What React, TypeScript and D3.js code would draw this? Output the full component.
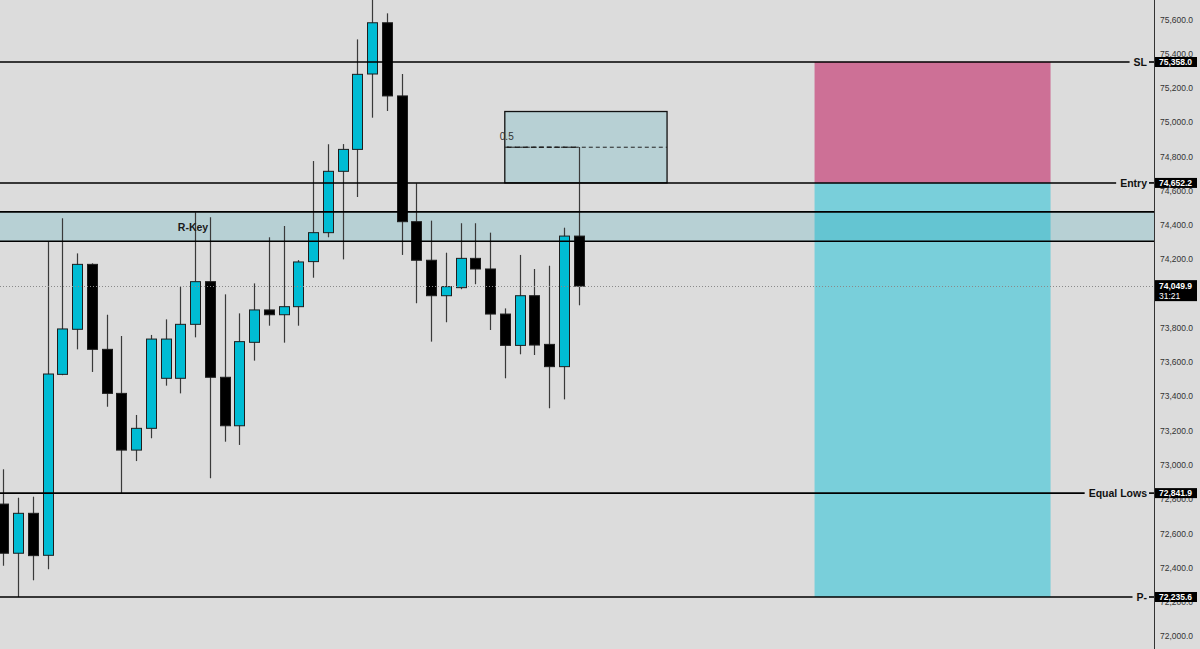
import React, { useEffect, useRef } from 'react';
import * as d3 from 'd3';

const W = 1200;
const H = 649;
const PLOT_RIGHT = 1154;

// OHLC candles (bar index = array index)
const opens = [72778, 72491, 72724, 72479, 73535, 73798, 74177, 73681, 73424, 73093,
  73220, 73512, 73512, 73827, 74076, 73518, 73235, 73722, 73911, 73883,
  73930, 74193, 74362, 74720, 74848, 75288, 75587, 75160, 74426, 74201,
  73994, 74041, 74212, 74150, 73887, 73704, 73994, 73710, 73580, 74342];
const highs = [72981, 72815, 72821, 74309, 74446, 74241, 74183, 73883, 73759, 73298,
  73765, 73856, 74047, 74481, 74452, 74002, 73891, 74066, 74335, 74401,
  74202, 74780, 74878, 74879, 75490, 75731, 75642, 75288, 74650, 74432,
  74245, 74417, 74417, 74362, 73920, 74232, 74150, 74169, 74391, 74862];
const lows = [72418, 72236, 72333, 72397, 73530, 73681, 73549, 73346, 72842, 73029,
  73162, 73469, 73424, 73751, 72928, 73142, 73123, 73615, 73819, 73720,
  73819, 74099, 74335, 74206, 74570, 75033, 75072, 74232, 73950, 73726,
  73839, 74032, 74061, 73794, 73512, 73652, 73648, 73337, 73389, 73938];
const closes = [72491, 72724, 72477, 73537, 73800, 74177, 73681, 73424, 73093, 73220,
  73741, 73741, 73827, 74076, 73518, 73235, 73726, 73911, 73883, 73930,
  74191, 74362, 74720, 74848, 75286, 75587, 75160, 74426, 74201, 73994,
  74047, 74212, 74150, 73887, 73704, 73994, 73706, 73580, 74342, 74049.9];

// visible price-axis ticks (74,000 is hidden behind the last-price badge)
const priceTicks = [72000, 72200, 72400, 72600, 72800, 73000, 73200, 73400, 73600, 73800,
  74200, 74400, 74600, 74800, 75000, 75200, 75400, 75600];

const levelNames = ['SL', 'Entry', 'Equal Lows', 'P-'];
const levelPrices = [75358.0, 74652.2, 72841.9, 72235.6];

const zoneName = 'R-Key';
const zonePrices = [74483, 74312];

const fibBars = [34, 45];
const fibPrices = [75069, 74652.2];
const fibLabel = '0.5';

const positionBars = [55, 71];
const positionPrices = [75358.0, 74652.2, 72235.6]; // stop, entry, target

const lastPrice = 74049.9;
const countdown = '31:21';

const FONT = '"Liberation Sans", Arial, sans-serif';

export default function App() {
  const ref = useRef<SVGSVGElement>(null);

  useEffect(() => {
    const svg = d3.select(ref.current);
    svg.selectAll('*').remove();

    const y = d3.scaleLinear().domain([72235.6, 75358]).range([597, 62]);
    const x = d3.scaleLinear().domain([0, 39]).range([3.3, 578.55]);
    const fmt = d3.format(',.1f');

    svg.append('rect').attr('width', W).attr('height', H).attr('fill', '#dcdcdc');

    // position box
    const px0 = x(positionBars[0]);
    const px1 = x(positionBars[1]);
    svg.append('rect')
      .attr('x', px0).attr('y', y(positionPrices[0]))
      .attr('width', px1 - px0).attr('height', y(positionPrices[1]) - y(positionPrices[0]))
      .attr('fill', '#cd7096');
    svg.append('rect')
      .attr('x', px0).attr('y', y(positionPrices[1]))
      .attr('width', px1 - px0).attr('height', y(positionPrices[2]) - y(positionPrices[1]))
      .attr('fill', '#79cfda');

    // zone
    svg.append('rect')
      .attr('x', 0).attr('y', y(zonePrices[0]))
      .attr('width', PLOT_RIGHT).attr('height', y(zonePrices[1]) - y(zonePrices[0]))
      .attr('fill', 'rgba(0,146,170,0.17)');

    // fib box
    const fx0 = x(fibBars[0]);
    const fx1 = x(fibBars[1]);
    svg.append('rect')
      .attr('x', fx0).attr('y', y(fibPrices[0]))
      .attr('width', fx1 - fx0).attr('height', y(fibPrices[1]) - y(fibPrices[0]))
      .attr('fill', 'rgba(0,146,170,0.17)')
      .attr('stroke', '#111').attr('stroke-width', 1.3);
    const mid = (fibPrices[0] + fibPrices[1]) / 2;
    svg.append('line')
      .attr('x1', fx0).attr('x2', fx1).attr('y1', y(mid)).attr('y2', y(mid))
      .attr('stroke', '#222').attr('stroke-width', 1).attr('stroke-dasharray', '4,3');
    svg.append('line')
      .attr('x1', fx0 + 2).attr('x2', x(39)).attr('y1', y(mid)).attr('y2', y(mid))
      .attr('stroke', '#222').attr('stroke-width', 1.6).attr('stroke-dasharray', '5,3');
    svg.append('text')
      .attr('x', fx0 - 5).attr('y', y(mid) - 11)
      .attr('font-family', FONT).attr('font-size', 10).attr('fill', '#333')
      .attr('dominant-baseline', 'central')
      .text(fibLabel);

    // candles
    const idx = d3.range(opens.length);
    const g = svg.append('g');
    g.selectAll('line.wick').data(idx).join('line')
      .attr('x1', (i) => Math.round(x(i)) + 0.5).attr('x2', (i) => Math.round(x(i)) + 0.5)
      .attr('y1', (i) => y(highs[i])).attr('y2', (i) => y(lows[i]))
      .attr('stroke', '#3a3a3a').attr('stroke-width', 1.2);
    g.selectAll('rect.body').data(idx).join('rect')
      .attr('x', (i) => Math.round(x(i)) - 4.5)
      .attr('y', (i) => Math.min(y(opens[i]), y(closes[i])))
      .attr('width', 10)
      .attr('height', (i) => Math.max(2, Math.abs(y(opens[i]) - y(closes[i]))))
      .attr('fill', (i) => (closes[i] >= opens[i] ? '#00bcd4' : '#000'))
      .attr('stroke', '#1e1e1e').attr('stroke-width', 1);

    // zone borders and label
    zonePrices.forEach((p) => {
      svg.append('line').attr('x1', 0).attr('x2', PLOT_RIGHT)
        .attr('y1', y(p)).attr('y2', y(p))
        .attr('stroke', '#000').attr('stroke-width', 1.6);
    });
    svg.append('text')
      .attr('x', 193).attr('y', (y(zonePrices[0]) + y(zonePrices[1])) / 2)
      .attr('text-anchor', 'middle').attr('dominant-baseline', 'central')
      .attr('font-family', FONT).attr('font-size', 10.5).attr('font-weight', 'bold')
      .attr('fill', '#1a1a1a').text(zoneName);

    // last price dotted line
    svg.append('line').attr('x1', 0).attr('x2', PLOT_RIGHT)
      .attr('y1', Math.round(y(lastPrice)) + 0.5).attr('y2', Math.round(y(lastPrice)) + 0.5)
      .attr('stroke', '#8a8a8a').attr('stroke-width', 1).attr('stroke-dasharray', '1,2');

    // levels
    levelNames.forEach((name, k) => {
      const yy = y(levelPrices[k]);
      const t = svg.append('text')
        .attr('x', 1147).attr('y', yy)
        .attr('text-anchor', 'end').attr('dominant-baseline', 'central')
        .attr('font-family', FONT).attr('font-size', 10.5).attr('font-weight', 'bold')
        .attr('fill', '#111').text(name);
      const tw = (t.node() as SVGTextElement).getComputedTextLength();
      svg.append('line').attr('x1', 0).attr('x2', 1147 - tw - 4)
        .attr('y1', yy).attr('y2', yy).attr('stroke', '#000').attr('stroke-width', 1.6);
      svg.append('line').attr('x1', 1149).attr('x2', PLOT_RIGHT)
        .attr('y1', yy).attr('y2', yy).attr('stroke', '#000').attr('stroke-width', 1.6);
    });

    // price axis
    svg.append('line').attr('x1', PLOT_RIGHT + 0.5).attr('x2', PLOT_RIGHT + 0.5)
      .attr('y1', 0).attr('y2', H).attr('stroke', '#333').attr('stroke-width', 1);
    svg.selectAll('text.tick').data(priceTicks).join('text')
      .attr('x', 1160).attr('y', (d) => y(d) - 1)
      .attr('dominant-baseline', 'central')
      .attr('font-family', FONT).attr('font-size', 8.5).attr('fill', '#333')
      .text((d) => fmt(d));

    // badges
    levelPrices.forEach((p) => {
      const yy = y(p);
      svg.append('rect').attr('x', 1155).attr('y', yy - 5).attr('width', 42).attr('height', 10)
        .attr('fill', '#000');
      svg.append('text').attr('x', 1159).attr('y', yy)
        .attr('dominant-baseline', 'central')
        .attr('font-family', FONT).attr('font-size', 8.5).attr('font-weight', 'bold')
        .attr('fill', '#fff').text(fmt(p));
    });
    const ly = y(lastPrice);
    svg.append('rect').attr('x', 1155).attr('y', ly - 6).attr('width', 42).attr('height', 21)
      .attr('fill', '#000');
    svg.append('text').attr('x', 1159).attr('y', ly)
      .attr('dominant-baseline', 'central')
      .attr('font-family', FONT).attr('font-size', 8.5).attr('font-weight', 'bold')
      .attr('fill', '#fff').text(fmt(lastPrice));
    svg.append('text').attr('x', 1159).attr('y', ly + 9.5)
      .attr('dominant-baseline', 'central')
      .attr('font-family', FONT).attr('font-size', 8.5)
      .attr('fill', '#fff').text(countdown);
  }, []);

  return (
    <svg
      ref={ref}
      width={W}
      height={H}
      style={{ position: 'absolute', left: 0, top: 0, display: 'block' }}
    />
  );
}
